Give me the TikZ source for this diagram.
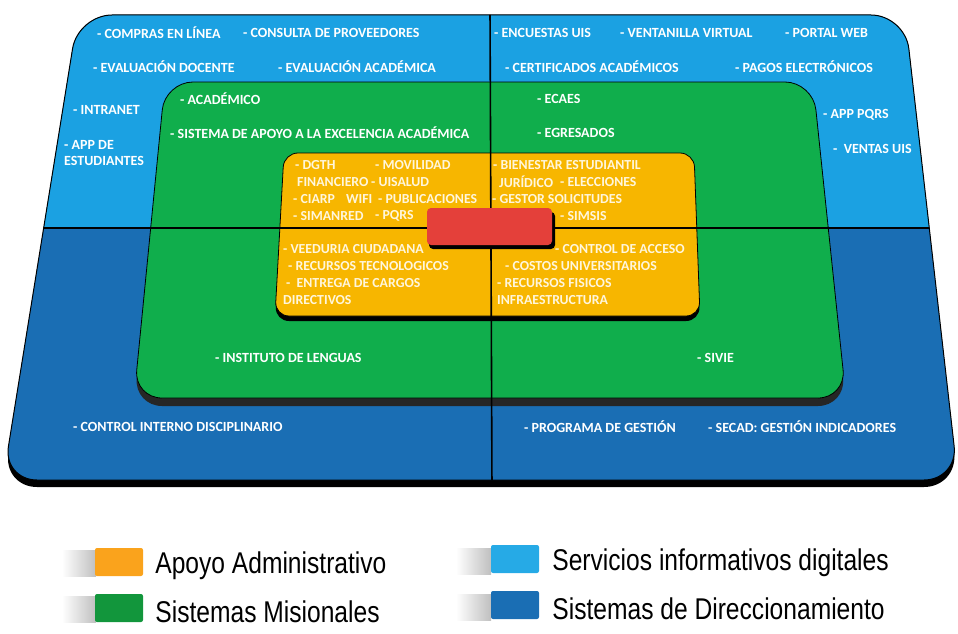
\documentclass[tikz,border=0pt]{standalone}
\usepackage{fontspec}
\newfontfamily\itemfont{Carlito}
\newfontfamily\legendfont[FakeStretch=0.82]{Liberation Sans}
\usetikzlibrary{positioning}
\definecolor{skyblue}{RGB}{27,161,226}
\definecolor{deepblue}{RGB}{26,110,180}
\definecolor{misgreen}{RGB}{16,174,76}
\definecolor{admorange}{RGB}{247,182,0}
\definecolor{corered}{RGB}{228,64,58}
\definecolor{paletext}{RGB}{255,246,220}
\definecolor{keyorange}{RGB}{250,163,28}
\definecolor{keygreen}{RGB}{18,150,60}
\definecolor{keysky}{RGB}{38,170,230}
\tikzset{
  item/.style={text=white,font=\itemfont\bfseries\fontsize{14}{15.5}\selectfont,inner sep=0pt,anchor=west},
  subitem/.style={item,text=paletext,font=\itemfont\bfseries\fontsize{13.8}{15}\selectfont},
  swatch/.style={rounded corners=2pt,minimum width=48pt,minimum height=28pt,inner sep=0pt},
  legtext/.style={font=\legendfont\fontsize{30}{33}\selectfont,inner sep=0pt,anchor=west,yshift=-4pt},
  divider/.style={black,line width=1.6pt}
}
\newcommand{\outershape}{(78,15) -- (905,15) -- (958,480) -- (3,480) -- cycle}
\newcommand{\greenshape}{(165,82) -- (813,82) -- (846,398) -- (134,398) -- cycle}
\newcommand{\orangeshape}{(284,153) -- (694,153) -- (700,316) -- (275,316) -- cycle}
\begin{document}
\begin{tikzpicture}[x=1pt,y=-1pt]
\useasboundingbox (0,0) rectangle (958,634);
% outer layer, two halves
\fill[black,rounded corners=34pt,yshift=-7pt] \outershape;
\fill[deepblue,rounded corners=34pt] \outershape;
\begin{scope}
  \clip (0,0) rectangle (958,228);
  \fill[skyblue,rounded corners=34pt] \outershape;
\end{scope}
\draw[black,line width=1pt,rounded corners=34pt] \outershape;
% green layer
\fill[black!85,rounded corners=28pt,yshift=-8pt] \greenshape;
\fill[misgreen,rounded corners=28pt] \greenshape;
\draw[black,line width=0.8pt,rounded corners=28pt] \greenshape;
% orange layer
\fill[black,rounded corners=14pt,yshift=-5pt] \orangeshape;
\fill[admorange,rounded corners=14pt] \orangeshape;
\draw[black,line width=0.8pt,rounded corners=14pt] \orangeshape;
% quadrant lines
\begin{scope}
  \clip[rounded corners=34pt] \outershape;
  \draw[divider] (490,10) -- (492,490);
  \draw[divider] (0,228) -- (958,228);
\end{scope}
% red core
\fill[black,rounded corners=4pt] (429,212) rectangle (555,249);
\fill[corered,rounded corners=4pt] (427,208) rectangle (552,245);

% servicios informativos digitales
\node[item] (compras) at (97,33) {- COMPRAS EN LÍNEA};
\node[item] (consulta) at (243,33) {- CONSULTA DE PROVEEDORES};
\node[item] (evaldoc) at (93,67) {- EVALUACIÓN DOCENTE};
\node[item] (evalacad) at (278,67) {- EVALUACIÓN ACADÉMICA};
\node[item] (intranet) at (73,110) {- INTRANET};
\node[item,align=left] (appest) at (64,153) {- APP DE\\ESTUDIANTES};
\node[item] (encuestas) at (494,33) {- ENCUESTAS UIS};
\node[item] (ventanilla) at (620,33) {- VENTANILLA VIRTUAL};
\node[item] (portal) at (785,33) {- PORTAL WEB};
\node[item] (certif) at (505,67) {- CERTIFICADOS ACADÉMICOS};
\node[item] (pagos) at (735,67) {- PAGOS ELECTRÓNICOS};
\node[item] (apppqrs) at (823,115) {- APP PQRS};
\node[item] (ventas) at (833,149) {-\ \ VENTAS UIS};
% sistemas misionales
\node[item] (academico) at (180,99) {- ACADÉMICO};
\node[item] (excelencia) at (170,133) {- SISTEMA DE APOYO A LA EXCELENCIA ACADÉMICA};
\node[item] (ecaes) at (537,99) {- ECAES};
\node[item] (egresados) at (537,133) {- EGRESADOS};
\node[item] (lenguas) at (215,358) {- INSTITUTO DE LENGUAS};
\node[item] (sivie) at (697,358) {- SIVIE};
% sistemas de direccionamiento
\node[item] (control) at (73,427) {- CONTROL INTERNO DISCIPLINARIO};
\node[item] (programa) at (524,427) {- PROGRAMA DE GESTIÓN};
\node[item] (secad) at (708,427) {- SECAD: GESTIÓN INDICADORES};
% apoyo administrativo
\node[subitem] (dgth) at (295,165) {- DGTH};
\node[subitem] (movilidad) at (375,165) {- MOVILIDAD};
\node[subitem] (financiero) at (297,182) {FINANCIERO};
\node[subitem] (uisalud) at (371,182) {- UISALUD};
\node[subitem] (ciarp) at (293,199) {- CIARP};
\node[subitem] (wifi) at (346,199) {WIFI};
\node[subitem] (publicaciones) at (378,199) {- PUBLICACIONES};
\node[subitem] (simanred) at (293,216) {- SIMANRED};
\node[subitem] (pqrs) at (375,216) {- PQRS};
\node[subitem] (bienestar) at (493,165) {- BIENESTAR ESTUDIANTIL};
\node[subitem] (juridico) at (499,182) {JURÍDICO};
\node[subitem] (elecciones) at (560,182) {- ELECCIONES};
\node[subitem] (gestor) at (492,199) {- GESTOR SOLICITUDES};
\node[subitem] (simsis) at (560,216) {- SIMSIS};
\node[subitem] (veeduria) at (283,249) {- VEEDURIA CIUDADANA};
\node[subitem] (recursostec) at (288,266) {- RECURSOS TECNOLOGICOS};
\node[subitem] (entrega) at (286,283) {-\ \ ENTREGA DE CARGOS};
\node[subitem] (directivos) at (283,300) {DIRECTIVOS};
\node[subitem] (acceso) at (555,249) {- CONTROL DE ACCESO};
\node[subitem] (costos) at (505,266) {- COSTOS UNIVERSITARIOS};
\node[subitem] (recursosfis) at (497,283) {- RECURSOS FISICOS};
\node[subitem] (infra) at (497,300) {INFRAESTRUCTURA};

% legend
\shade[left color=white,right color=black!25] (62,550) rectangle (96,576);
\shade[left color=white,right color=black!25] (62,596) rectangle (96,622);
\shade[left color=white,right color=black!25] (456,548) rectangle (491,574);
\shade[left color=white,right color=black!25] (456,594) rectangle (491,620);
\node[swatch,fill=keyorange] (swapoyo) at (119,562) {};
\node[swatch,fill=keygreen] (swmision) at (119,608) {};
\node[swatch,fill=keysky] (swservicios) at (515,559) {};
\node[swatch,fill=deepblue] (swdirec) at (515,605) {};
\node[legtext,right=12pt of swapoyo] (lapoyo) {Apoyo Administrativo};
\node[legtext,right=12pt of swmision] (lmision) {Sistemas Misionales};
\node[legtext,right=13pt of swservicios] (lservicios) {Servicios informativos digitales};
\node[legtext,right=13pt of swdirec] (ldirec) {Sistemas de Direccionamiento};
\end{tikzpicture}
\end{document}
